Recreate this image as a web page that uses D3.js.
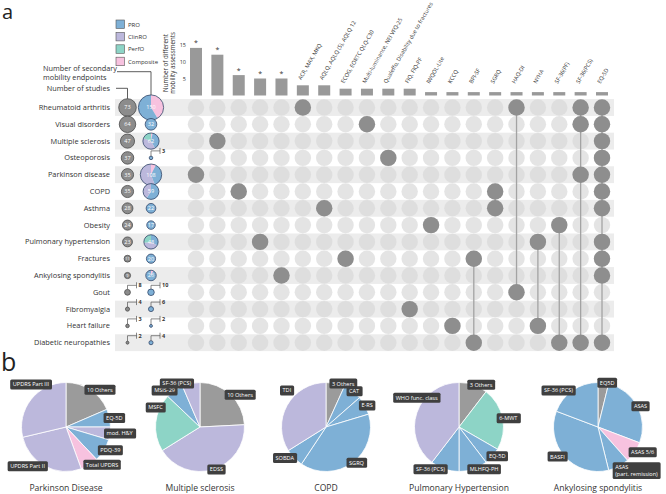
<!DOCTYPE html>
<html>
<head>
<meta charset="utf-8">
<script src="https://cdn.jsdelivr.net/npm/d3@7"></script>
<style>
  body { margin: 0; background: #fff; }
  svg { display: block; font-family: "Open Sans", sans-serif; }
</style>
</head>
<body>
<svg id="chart" width="666" height="494"></svg>
<script>
// ---- data: panel a ----
const diseases = ['Rheumatoid arthritis', 'Visual disorders', 'Multiple sclerosis', 'Osteoporosis',
  'Parkinson disease', 'COPD', 'Asthma', 'Obesity', 'Pulmonary hypertension', 'Fractures',
  'Ankylosing spondylitis', 'Gout', 'Fibromyalgia', 'Heart failure', 'Diabetic neuropathies'];
const studies = [73, 64, 47, 37, 35, 35, 28, 24, 23, 11, 9, 8, 4, 3, 2];
// secondary mobility endpoints by type
const secComposite = [62, 0, 2, 0, 8, 0, 0, 0, 0, 0, 2, 0, 0, 0, 0];
const secPRO = [88, 32, 24, 3, 40, 35, 22, 17, 16, 20, 24, 10, 6, 2, 4];
const secClinRO = [0, 0, 24, 0, 60, 24, 0, 0, 19, 0, 0, 0, 0, 0, 0];
const secPerfO = [0, 0, 12, 0, 0, 0, 0, 0, 13, 0, 0, 0, 0, 0, 0];

const assessLabels = ['', '', '', '', '', 'ACR, MAX, MKQ', 'AQLQ, AQLQ (S), AQLQ 12', 'ECOG, EORTC QLQ-C30',
  'Multi-luminance, NEI VFQ-25', 'Qualeffo, Disability due to fractures', 'FIQ, FIQ-PF', 'IWQOL-Lite',
  'KCCQ', 'BPI-SF', 'SGRQ', 'HAQ-DI', 'NYHA', 'SF-36(PF)', 'SF-36(PCS)', 'EQ-5D'];
const assessCounts = [14, 12, 6, 5, 5, 3, 3, 2, 2, 2, 2, 1, 1, 1, 1, 1, 1, 1, 1, 1];
const exclusive = [true, true, true, true, true, false, false, false, false, false,
  false, false, false, false, false, false, false, false, false, false];
// which diseases (row index) use each set
const members = [[4], [2], [5], [8], [10], [0], [6], [9], [1], [3], [12], [7], [13],
  [9, 14], [5, 6], [0, 11], [8, 13], [7, 14], [0, 1, 4, 14], [0, 1, 2, 3, 4, 5, 6, 8, 9, 10, 14]];
const yTicks = [5, 10, 15];

// ---- data: panel b ----
const pdNames = ['10 Others', 'EQ-5D', 'mod. H&Y', 'PDQ-39', 'Total UPDRS', 'UPDRS Part II', 'UPDRS Part III'];
const pdValues = [20, 7, 5, 9, 7, 29, 31];
const pdTypes = ['Other', 'PRO', 'ClinRO', 'PRO', 'Composite', 'ClinRO', 'ClinRO'];
const msNames = ['10 Others', 'EDSS', 'MSFC', 'MSIS-29', 'SF-36 (PCS)'];
const msValues = [15, 26, 13, 4, 4];
const msTypes = ['Other', 'ClinRO', 'PerfO', 'PRO', 'ClinRO'];
const copdNames = ['3 Others', 'CAT', 'E-RS', 'SGRQ', 'SOBDA', 'TDI'];
const copdValues = [4, 4, 4, 23, 4, 20];
const copdTypes = ['Other', 'PRO', 'PRO', 'PRO', 'PRO', 'ClinRO'];
const phNames = ['3 Others', '6-MWT', 'EQ-5D', 'MLHFQ-PH', 'SF-36 (PCS)', 'WHO func. class'];
const phValues = [5, 11, 3, 5, 5, 19];
const phTypes = ['Other', 'PerfO', 'PRO', 'PRO', 'PRO', 'ClinRO'];
const asNames = ['EQ5D', 'ASAS', 'ASAS 5/6', 'ASAS\n(part. remission)', 'BASFI', 'SF-36 (PCS)'];
const asValues = [1, 7, 2, 2, 9, 5];
const asTypes = ['Other', 'PRO', 'Composite', 'PRO', 'PRO', 'PRO'];
const pieTitles = ['Parkinson Disease', 'Multiple sclerosis', 'COPD', 'Pulmonary Hypertension', 'Ankylosing spondylitis'];

const typeNames = ['PRO', 'ClinRO', 'PerfO', 'Composite'];
const color = d3.scaleOrdinal()
  .domain(['PRO', 'ClinRO', 'PerfO', 'Composite', 'Other'])
  .range(['#7eb0d6', '#bcb8dc', '#8dd4c6', '#f7c2df', '#9b9b9b']);

const svg = d3.select('#chart');

// panel letters
svg.append('text').attr('x', 2).attr('y', 19).style('font-size', '20px').attr('fill', '#222').text('a');
svg.append('text').attr('x', 1).attr('y', 371).style('font-size', '25px').attr('fill', '#222').text('b');

// ---- matrix ----
const x = d3.scalePoint().domain(d3.range(assessLabels.length)).range([196, 602]);
const y = d3.scalePoint().domain(d3.range(diseases.length)).range([107.5, 342.7]);
const rowH = y.step();
const dotR = 8.2;

const matrix = svg.append('g').attr('class', 'matrix');
matrix.selectAll('.band')
  .data(diseases.filter((d, i) => i % 2 === 0))
  .enter().append('rect')
  .attr('class', 'band')
  .attr('x', 115)
  .attr('width', 499)
  .attr('y', (d, i) => y(i * 2) - rowH / 2)
  .attr('height', rowH)
  .attr('fill', '#ececec');

diseases.forEach((d, r) => {
  matrix.append('g').selectAll('circle')
    .data(assessLabels)
    .enter().append('circle')
    .attr('cx', (c, i) => x(i))
    .attr('cy', y(r))
    .attr('r', dotR)
    .attr('fill', '#d8d8d8')
    .attr('fill-opacity', 0.7);
});

members.forEach((m, c) => {
  if (m.length > 1) {
    matrix.append('line')
      .attr('x1', x(c)).attr('x2', x(c))
      .attr('y1', y(d3.min(m))).attr('y2', y(d3.max(m)))
      .attr('stroke', '#a3a3a3')
      .attr('stroke-width', 1.3);
  }
  matrix.append('g').selectAll('circle')
    .data(m)
    .enter().append('circle')
    .attr('cx', x(c))
    .attr('cy', d => y(d))
    .attr('r', dotR)
    .attr('fill', '#8e8e8e');
});

// row labels
svg.append('g').selectAll('text')
  .data(diseases)
  .enter().append('text')
  .attr('x', 110)
  .attr('y', (d, i) => y(i))
  .attr('dy', '0.35em')
  .attr('text-anchor', 'end')
  .style('font-size', '7.4px')
  .attr('fill', '#333')
  .text(d => d);

// ---- bars ----
const yBar = d3.scaleLinear().domain([0, 15]).range([95.5, 44.5]);
const bars = svg.append('g').attr('class', 'bars');
bars.selectAll('rect')
  .data(assessCounts)
  .enter().append('rect')
  .attr('x', (d, i) => x(i) - 6)
  .attr('width', 12)
  .attr('y', d => yBar(d))
  .attr('height', d => yBar(0) - yBar(d))
  .attr('fill', '#999');

bars.selectAll('.star')
  .data(assessCounts)
  .enter().filter((d, i) => exclusive[i]).append('text')
  .attr('class', 'star')
  .attr('x', (d, i) => x(i))
  .attr('y', d => yBar(d) - 2.5)
  .attr('text-anchor', 'middle')
  .style('font-size', '7px')
  .attr('fill', '#333')
  .text('*');

bars.selectAll('.clabel')
  .data(assessLabels)
  .enter().append('text')
  .attr('class', 'clabel')
  .attr('transform', (d, i) => `translate(${x(i) - 1.5},${Math.min(yBar(assessCounts[i]) - 5, 84)}) rotate(-60)`)
  .style('font-size', '5.6px')
  .attr('fill', '#333')
  .text(d => d);

const yAxis = svg.append('g')
  .attr('transform', 'translate(187,0)')
  .call(d3.axisLeft(yBar).tickValues(yTicks).tickSize(0).tickPadding(1));
yAxis.select('.domain').remove();
yAxis.selectAll('text').style('font-size', '5.5px').style('font-family', '"Open Sans", sans-serif').attr('fill', '#333');

svg.append('text')
  .attr('transform', 'translate(168,63) rotate(-90)')
  .attr('text-anchor', 'middle')
  .style('font-size', '6.2px')
  .attr('fill', '#333')
  .selectAll('tspan')
  .data(['Number of different', 'mobility assessments'])
  .enter().append('tspan')
  .attr('x', 0)
  .attr('dy', (d, i) => i === 0 ? 0 : '1.1em')
  .text(d => d);

// ---- legend ----
const legend = svg.append('g').attr('transform', 'translate(116,20)');
const lg = legend.selectAll('g')
  .data(typeNames)
  .enter().append('g')
  .attr('transform', (d, i) => `translate(0,${i * 12.4})`);
lg.append('rect')
  .attr('width', 8.5).attr('height', 8.5)
  .attr('fill', d => color(d))
  .attr('stroke', '#555').attr('stroke-width', 0.6);
lg.append('text')
  .attr('x', 12).attr('y', 6.6)
  .style('font-size', '6px')
  .attr('fill', '#333')
  .text(d => d);

// ---- bubbles ----
const rScale = d3.scaleSqrt().domain([0, 100]).range([0, 10.3]);
const xStudies = 127.5;
const xSec = 151;

function bracket(g, cx, cy, r, n) {
  g.append('path')
    .attr('d', `M${cx},${cy - r} V${cy - 7} H${cx + 9} M${cx + 9},${cy - 10} V${cy - 4}`)
    .attr('fill', 'none')
    .attr('stroke', '#555')
    .attr('stroke-width', 0.7);
  g.append('text')
    .attr('x', cx + 11).attr('y', cy - 5)
    .style('font-size', '5.5px').style('font-weight', 'bold')
    .attr('fill', '#333')
    .text(n);
}

const bub = svg.append('g').attr('class', 'bubbles');
studies.forEach((n, i) => {
  const r = rScale(n);
  bub.append('circle')
    .attr('cx', xStudies).attr('cy', y(i)).attr('r', r)
    .attr('fill', '#8c8c8c').attr('stroke', '#4a4a4a').attr('stroke-width', 0.8);
  if (n < 9) {
    bracket(bub, xStudies, y(i), r, n);
  } else {
    bub.append('text')
      .attr('x', xStudies).attr('y', y(i)).attr('dy', '0.35em')
      .attr('text-anchor', 'middle')
      .style('font-size', n < 15 ? '4px' : '5.5px')
      .attr('fill', '#fff')
      .text(n);
  }
});

const secPie = d3.pie().sort(null).value(d => d.v);
diseases.forEach((d, i) => {
  const parts = [
    { t: 'Composite', v: secComposite[i] },
    { t: 'PRO', v: secPRO[i] },
    { t: 'ClinRO', v: secClinRO[i] },
    { t: 'PerfO', v: secPerfO[i] },
  ];
  const total = d3.sum(parts, p => p.v);
  const r = rScale(total);
  const g = bub.append('g').attr('transform', `translate(${xSec},${y(i)})`);
  g.selectAll('path')
    .data(secPie(parts))
    .enter().append('path')
    .attr('d', d3.arc().innerRadius(0).outerRadius(r))
    .attr('fill', p => color(p.data.t));
  g.append('circle').attr('r', r)
    .attr('fill', 'none').attr('stroke', '#34486a').attr('stroke-width', 0.8);
  if (total <= 10) {
    bracket(bub, xSec, y(i), r, total);
  } else {
    g.append('text')
      .attr('dy', '0.35em')
      .attr('text-anchor', 'middle')
      .style('font-size', '5.5px')
      .attr('fill', '#fff')
      .text(total);
  }
});

// leaders
svg.append('path')
  .attr('d', `M117,71.7 H${xSec} V${y(0) - rScale(150)}`)
  .attr('fill', 'none').attr('stroke', '#333').attr('stroke-width', 0.8);
svg.append('path')
  .attr('d', `M116,88.3 H${xStudies} V${y(0) - rScale(studies[0])}`)
  .attr('fill', 'none').attr('stroke', '#333').attr('stroke-width', 0.8);
svg.append('text').attr('x', 43).attr('y', 71).style('font-size', '7.3px').attr('fill', '#333').text('Number of secondary');
svg.append('text').attr('x', 43).attr('y', 79.5).style('font-size', '7.3px').attr('fill', '#333').text('mobility endpoints');
svg.append('text').attr('x', 110).attr('y', 91).attr('text-anchor', 'end').style('font-size', '7.3px').attr('fill', '#333').text('Number of studies');

// ---- panel b pies ----
const pieSets = [
  [pdNames, pdValues, pdTypes],
  [msNames, msValues, msTypes],
  [copdNames, copdValues, copdTypes],
  [phNames, phValues, phTypes],
  [asNames, asValues, asTypes],
];
const pieCx = [66, 200, 326, 459, 598];
const pieCy = 427;
const R = 44.5;
const bigPie = d3.pie().sort(null).value(d => d.v);
const bigArc = d3.arc().innerRadius(0).outerRadius(R);

pieSets.forEach(([names, values, types], k) => {
  const g = svg.append('g').attr('transform', `translate(${pieCx[k]},${pieCy})`);
  const arcs = bigPie(names.map((n, i) => ({ n, v: values[i], t: types[i] })));
  g.selectAll('path')
    .data(arcs)
    .enter().append('path')
    .attr('d', bigArc)
    .attr('fill', d => color(d.data.t))
    .attr('stroke', '#fff')
    .attr('stroke-width', 0.8);

  arcs.forEach(d => {
    const a = (d.startAngle + d.endAngle) / 2;
    const px = Math.sin(a) * R;
    const py = -Math.cos(a) * R;
    const lines = d.data.n.split('\n');
    const lab = g.append('g');
    const txt = lab.append('text')
      .style('font-size', '5.6px')
      .attr('fill', '#fff');
    txt.selectAll('tspan')
      .data(lines)
      .enter().append('tspan')
      .attr('x', 0)
      .attr('dy', (l, i) => i === 0 ? 0 : '1.2em')
      .text(l => l);
    const bb = txt.node().getBBox();
    const w = bb.width + 5;
    const h = bb.height + 2;
    const lineH = h / lines.length;
    // big slices in the upper-left get their label lifted and centred on the rim
    const lifted = px < 0 && py < 0 && (d.endAngle - d.startAngle) > 1.3;
    let left;
    let top = py - lineH / 2;
    if (lifted) {
      left = px - w / 2;
      top -= 15;
    } else {
      left = px >= 0 ? px - 6 : px + 3 - w;
    }
    lab.insert('rect', 'text')
      .attr('x', left).attr('y', top)
      .attr('width', w).attr('height', h)
      .attr('rx', 1.5)
      .attr('fill', '#3f3f3f');
    txt.attr('transform', `translate(${left + 2.5 - bb.x},${top + 1 - bb.y})`);
  });

  svg.append('text')
    .attr('x', pieCx[k]).attr('y', 491)
    .attr('text-anchor', 'middle')
    .style('font-size', '8.6px')
    .attr('fill', '#333')
    .text(pieTitles[k]);
});
</script>
</body>
</html>
